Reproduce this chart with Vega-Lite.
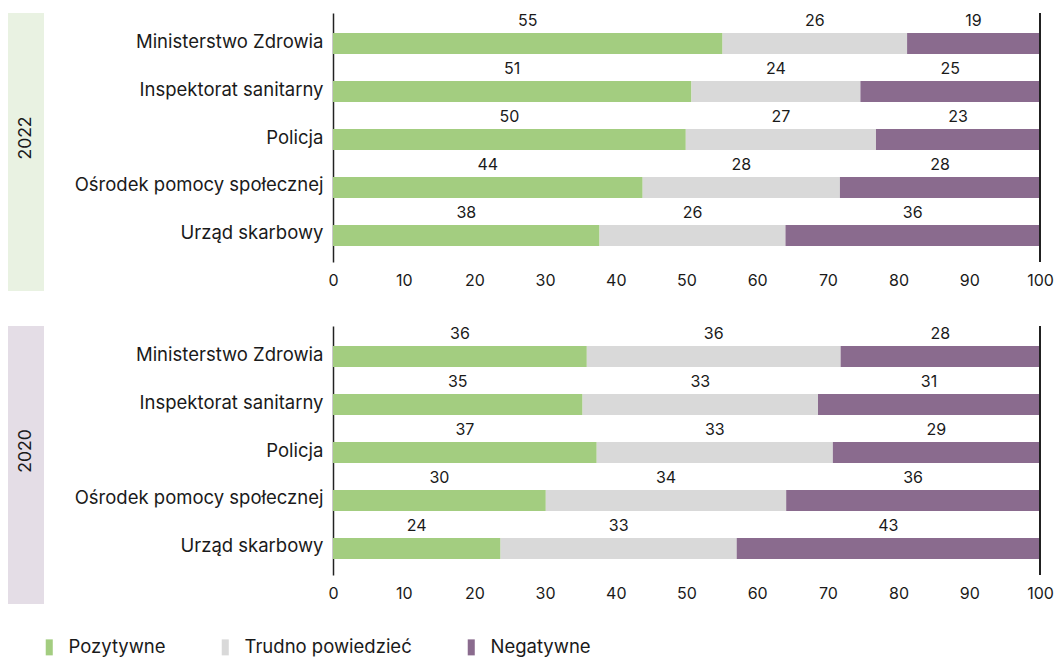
{
  "$schema": "https://vega.github.io/schema/vega-lite/v6.json",
  "padding": {"left": 8, "top": 12, "right": 0, "bottom": 0},
  "config": {
    "font": "Inter",
    "view": {"stroke": null},
    "text": {"color": "#1a1a1a"},
    "legend": {"padding": 0}
  },
  "datasets": {
    "survey": [
      {"year": "2022", "org": "Ministerstwo Zdrowia", "cat": "Pozytywne", "k": 1, "value": 55.1},
      {"year": "2022", "org": "Ministerstwo Zdrowia", "cat": "Trudno powiedzieć", "k": 2, "value": 26.1},
      {"year": "2022", "org": "Ministerstwo Zdrowia", "cat": "Negatywne", "k": 3, "value": 18.8},
      {"year": "2022", "org": "Inspektorat sanitarny", "cat": "Pozytywne", "k": 1, "value": 50.7},
      {"year": "2022", "org": "Inspektorat sanitarny", "cat": "Trudno powiedzieć", "k": 2, "value": 23.9},
      {"year": "2022", "org": "Inspektorat sanitarny", "cat": "Negatywne", "k": 3, "value": 25.4},
      {"year": "2022", "org": "Policja", "cat": "Pozytywne", "k": 1, "value": 49.9},
      {"year": "2022", "org": "Policja", "cat": "Trudno powiedzieć", "k": 2, "value": 26.9},
      {"year": "2022", "org": "Policja", "cat": "Negatywne", "k": 3, "value": 23.2},
      {"year": "2022", "org": "Ośrodek pomocy społecznej", "cat": "Pozytywne", "k": 1, "value": 43.8},
      {"year": "2022", "org": "Ośrodek pomocy społecznej", "cat": "Trudno powiedzieć", "k": 2, "value": 27.9},
      {"year": "2022", "org": "Ośrodek pomocy społecznej", "cat": "Negatywne", "k": 3, "value": 28.3},
      {"year": "2022", "org": "Urząd skarbowy", "cat": "Pozytywne", "k": 1, "value": 37.7},
      {"year": "2022", "org": "Urząd skarbowy", "cat": "Trudno powiedzieć", "k": 2, "value": 26.3},
      {"year": "2022", "org": "Urząd skarbowy", "cat": "Negatywne", "k": 3, "value": 36.0},
      {"year": "2020", "org": "Ministerstwo Zdrowia", "cat": "Pozytywne", "k": 1, "value": 35.9},
      {"year": "2020", "org": "Ministerstwo Zdrowia", "cat": "Trudno powiedzieć", "k": 2, "value": 35.9},
      {"year": "2020", "org": "Ministerstwo Zdrowia", "cat": "Negatywne", "k": 3, "value": 28.2},
      {"year": "2020", "org": "Inspektorat sanitarny", "cat": "Pozytywne", "k": 1, "value": 35.3},
      {"year": "2020", "org": "Inspektorat sanitarny", "cat": "Trudno powiedzieć", "k": 2, "value": 33.3},
      {"year": "2020", "org": "Inspektorat sanitarny", "cat": "Negatywne", "k": 3, "value": 31.4},
      {"year": "2020", "org": "Policja", "cat": "Pozytywne", "k": 1, "value": 37.3},
      {"year": "2020", "org": "Policja", "cat": "Trudno powiedzieć", "k": 2, "value": 33.4},
      {"year": "2020", "org": "Policja", "cat": "Negatywne", "k": 3, "value": 29.3},
      {"year": "2020", "org": "Ośrodek pomocy społecznej", "cat": "Pozytywne", "k": 1, "value": 30.1},
      {"year": "2020", "org": "Ośrodek pomocy społecznej", "cat": "Trudno powiedzieć", "k": 2, "value": 34.0},
      {"year": "2020", "org": "Ośrodek pomocy społecznej", "cat": "Negatywne", "k": 3, "value": 35.9},
      {"year": "2020", "org": "Urząd skarbowy", "cat": "Pozytywne", "k": 1, "value": 23.7},
      {"year": "2020", "org": "Urząd skarbowy", "cat": "Trudno powiedzieć", "k": 2, "value": 33.4},
      {"year": "2020", "org": "Urząd skarbowy", "cat": "Negatywne", "k": 3, "value": 42.9}
    ]
  },
  "data": {"name": "survey"},
  "spacing": 34,
  "vconcat": [
    {
      "spacing": 0,
      "hconcat": [
        {
          "width": 36,
          "height": 278,
          "view": {"fill": "#e9f2e2", "stroke": null},
          "transform": [
            {"filter": "datum.year === '2022'"},
            {"aggregate": [], "groupby": ["year"]}
          ],
          "mark": {"type": "text", "angle": 270, "fontSize": 17.5, "yOffset": -14, "align": "center", "baseline": "middle"},
          "encoding": {"text": {"field": "year", "type": "nominal"}}
        },
        {
          "width": 707,
          "height": 249,
          "transform": [
            {"filter": "datum.year === '2022'"},
            {"stack": "value", "groupby": ["org"], "sort": [{"field": "k", "order": "ascending"}], "as": ["v0", "v1"]}
          ],
          "layer": [
            {
              "mark": {"type": "bar", "size": 21, "yOffset": 2},
              "encoding": {
                "y": {
                  "field": "org", "type": "nominal",
                  "sort": ["Ministerstwo Zdrowia", "Inspektorat sanitarny", "Policja", "Ośrodek pomocy społecznej", "Urząd skarbowy"],
                  "scale": {"paddingInner": 0, "paddingOuter": 0.094},
                  "axis": {"title": null, "ticks": false, "domainColor": "#222", "domainWidth": 1.5, "labelFontSize": 18.5, "labelColor": "#1a1a1a", "labelPadding": 10, "labelLimit": 300, "minExtent": 289, "maxExtent": 289}
                },
                "x": {"field": "v0", "type": "quantitative",
                  "scale": {"domain": [0, 100]},
                  "axis": {"title": null, "domain": false, "ticks": false, "grid": false, "labelFlush": false, "values": [0,10,20,30,40,50,60,70,80,90,100], "labelFontSize": 16, "labelColor": "#1a1a1a", "labelPadding": 10}},
                "x2": {"field": "v1"},
                "color": {"field": "cat", "type": "nominal",
                  "scale": {"domain": ["Pozytywne", "Trudno powiedzieć", "Negatywne"], "range": ["#a3cd80", "#d9d9d9", "#8a6b8e"]},
                  "legend": {"title": null, "orient": "none", "direction": "horizontal", "legendX": 32, "legendY": 625,
                    "symbolType": "M-0.44,-1H0.44V1H-0.44Z", "symbolSize": 256, "symbolStrokeWidth": 0, "symbolOpacity": 1,
                    "labelFontSize": 18.5, "labelColor": "#1a1a1a", "labelOffset": 10, "columnPadding": 50, "labelLimit": 300}}
              }
            },
            {
              "transform": [
                {"fold": ["v0", "v1"], "as": ["edge", "pos"]},
                {"aggregate": [{"op": "mean", "field": "pos", "as": "mid"}, {"op": "max", "field": "value", "as": "val"}], "groupby": ["org", "cat"]}
              ],
              "mark": {"type": "text", "yOffset": -20.5, "fontSize": 16, "baseline": "middle", "align": "center"},
              "encoding": {
                "y": {"field": "org", "type": "nominal", "sort": ["Ministerstwo Zdrowia", "Inspektorat sanitarny", "Policja", "Ośrodek pomocy społecznej", "Urząd skarbowy"]},
                "x": {"field": "mid", "type": "quantitative"},
                "text": {"field": "val", "type": "quantitative", "format": ".0f"}
              }
            },
            {
              "mark": {"type": "rule", "color": "#222", "strokeWidth": 1.5},
              "encoding": {"x": {"datum": 100}}
            }
          ]
        }
      ]
    },
    {
      "spacing": 0,
      "hconcat": [
        {
          "width": 36,
          "height": 278,
          "view": {"fill": "#e4dde6", "stroke": null},
          "transform": [
            {"filter": "datum.year === '2020'"},
            {"aggregate": [], "groupby": ["year"]}
          ],
          "mark": {"type": "text", "angle": 270, "fontSize": 17.5, "yOffset": -14, "align": "center", "baseline": "middle"},
          "encoding": {"text": {"field": "year", "type": "nominal"}}
        },
        {
          "width": 707,
          "height": 249,
          "transform": [
            {"filter": "datum.year === '2020'"},
            {"stack": "value", "groupby": ["org"], "sort": [{"field": "k", "order": "ascending"}], "as": ["v0", "v1"]}
          ],
          "layer": [
            {
              "mark": {"type": "bar", "size": 21, "yOffset": 2},
              "encoding": {
                "y": {
                  "field": "org", "type": "nominal",
                  "sort": ["Ministerstwo Zdrowia", "Inspektorat sanitarny", "Policja", "Ośrodek pomocy społecznej", "Urząd skarbowy"],
                  "scale": {"paddingInner": 0, "paddingOuter": 0.094},
                  "axis": {"title": null, "ticks": false, "domainColor": "#222", "domainWidth": 1.5, "labelFontSize": 18.5, "labelColor": "#1a1a1a", "labelPadding": 10, "labelLimit": 300, "minExtent": 289, "maxExtent": 289}
                },
                "x": {"field": "v0", "type": "quantitative",
                  "scale": {"domain": [0, 100]},
                  "axis": {"title": null, "domain": false, "ticks": false, "grid": false, "labelFlush": false, "values": [0,10,20,30,40,50,60,70,80,90,100], "labelFontSize": 16, "labelColor": "#1a1a1a", "labelPadding": 10}},
                "x2": {"field": "v1"},
                "color": {"field": "cat", "type": "nominal",
                  "scale": {"domain": ["Pozytywne", "Trudno powiedzieć", "Negatywne"], "range": ["#a3cd80", "#d9d9d9", "#8a6b8e"]}}
              }
            },
            {
              "transform": [
                {"fold": ["v0", "v1"], "as": ["edge", "pos"]},
                {"aggregate": [{"op": "mean", "field": "pos", "as": "mid"}, {"op": "max", "field": "value", "as": "val"}], "groupby": ["org", "cat"]}
              ],
              "mark": {"type": "text", "yOffset": -20.5, "fontSize": 16, "baseline": "middle", "align": "center"},
              "encoding": {
                "y": {"field": "org", "type": "nominal", "sort": ["Ministerstwo Zdrowia", "Inspektorat sanitarny", "Policja", "Ośrodek pomocy społecznej", "Urząd skarbowy"]},
                "x": {"field": "mid", "type": "quantitative"},
                "text": {"field": "val", "type": "quantitative", "format": ".0f"}
              }
            },
            {
              "mark": {"type": "rule", "color": "#222", "strokeWidth": 1.5},
              "encoding": {"x": {"datum": 100}}
            }
          ]
        }
      ]
    }
  ]
}
